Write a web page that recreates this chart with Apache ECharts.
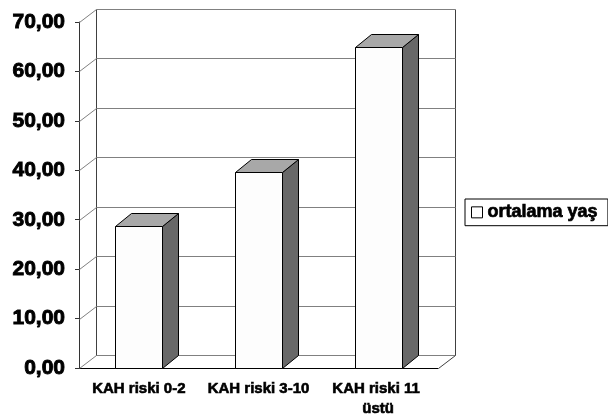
<!DOCTYPE html>
<html>
<head>
<meta charset="utf-8">
<title>ortalama yaş</title>
<script src="https://cdn.jsdelivr.net/npm/echarts@6/dist/echarts.min.js"></script>
<style>
html,body{margin:0;padding:0;background:#fff;}
#chart{width:608px;height:419px;}
</style>
</head>
<body>
<div id="chart"></div>
<script>
var categories = ['KAH riski 0-2', 'KAH riski 3-10', 'KAH riski 11 üstü'];
var values = [28.8, 39.7, 64.9];
var yTicks = [0, 10, 20, 30, 40, 50, 60, 70];
var seriesName = 'ortalama yaş';

var DX = 17, DY = -13;   // duvar derinliği
var BDX = 16, BDY = -13; // sütun derinliği
var FONT = "'Liberation Sans', Arial, sans-serif";

function fmt(v) { return v.toFixed(2).replace('.', ','); }
function px(v) { return Math.round(v) + 0.5; }

var chart = echarts.init(document.getElementById('chart'));

function line(x1, y1, x2, y2, c) {
    return {type: 'line', shape: {x1: x1, y1: y1, x2: x2, y2: y2},
        style: {stroke: c || '#808080', lineWidth: 1}};
}

// arka duvar + zemin çizgileri
function renderWall(params, api) {
    var cs = params.coordSys;
    var x0 = px(cs.x), x1 = px(cs.x + cs.width);
    var y = px(api.coord([0, api.value(1)])[1]);
    var kids = [
        line(x0, y, x0 + DX, y + DY),
        line(x0 + DX, y + DY, x1 + DX, y + DY)
    ];
    if (params.dataIndex === 0) {
        var yt = px(cs.y);
        kids.push(line(x1, y, x1 + DX, y + DY, '#404040'));
        kids.push(line(x0 + DX, y + DY, x0 + DX, yt + DY, '#404040'));
        kids.push(line(x1 + DX, y + DY, x1 + DX, yt + DY, '#404040'));
    }
    return {type: 'group', children: kids};
}

function renderBar(params, api) {
    var top = api.coord([api.value(0), api.value(1)]);
    var base = api.coord([api.value(0), 0]);
    var w = Math.round(api.size([1, 0])[0] * 0.39);
    var l = px(top[0] - w / 2), r = l + w;
    var t = px(top[1]), b = px(base[1]);
    return {type: 'group', children: [
        {type: 'polygon', shape: {points: [[r, b], [r + BDX, b + BDY], [r + BDX, t + BDY], [r, t]]},
            style: {fill: '#686868', stroke: '#000', lineWidth: 1}},
        {type: 'polygon', shape: {points: [[l, t], [l + BDX, t + BDY], [r + BDX, t + BDY], [r, t]]},
            style: {fill: '#a8a8a8', stroke: '#000', lineWidth: 1}},
        {type: 'rect', shape: {x: l, y: t, width: w, height: b - t},
            style: {fill: '#fdfdfd', stroke: '#000', lineWidth: 1}}
    ]};
}

var option = {
    backgroundColor: '#fff',
    animation: false,
    grid: {left: 79, top: 22, width: 359, height: 348},
    legend: {
        left: 465, top: 199,
        orient: 'vertical',
        padding: [4, 10, 4, 6],
        borderColor: '#000', borderWidth: 1,
        itemWidth: 11, itemHeight: 11, itemGap: 4,
        data: [{name: seriesName, icon: 'rect',
            itemStyle: {color: '#fff', borderColor: '#000', borderWidth: 1}}],
        textStyle: {fontFamily: FONT, fontWeight: 'bold', fontSize: 18, color: '#000',
            textBorderColor: '#000', textBorderWidth: 0.7}
    },
    xAxis: {
        type: 'category',
        data: categories,
        axisLine: {lineStyle: {color: '#000'}},
        axisTick: {length: 5, lineStyle: {color: '#000'}},
        axisLabel: {
            interval: 0, margin: 11,
            width: 112, overflow: 'break', lineHeight: 20,
            fontFamily: FONT, fontWeight: 'bold', fontSize: 15, color: '#000',
            textBorderColor: '#000', textBorderWidth: 0.6
        },
        splitLine: {show: false}
    },
    yAxis: {
        type: 'value',
        min: 0, max: 70, interval: 10,
        axisLine: {show: true, lineStyle: {color: '#333'}},
        axisTick: {show: true, length: 4, lineStyle: {color: '#333'}},
        axisLabel: {
            formatter: fmt, margin: 14,
            fontFamily: FONT, fontWeight: 'bold', fontSize: 21, color: '#000',
            textBorderColor: '#000', textBorderWidth: 0.9
        },
        splitLine: {show: false}
    },
    series: [
        {
            type: 'custom',
            silent: true,
            z: 1,
            renderItem: renderWall,
            encode: {x: 0, y: 1},
            data: yTicks.map(function (v) { return [0, v]; })
        },
        {
            name: seriesName,
            type: 'custom',
            z: 3,
            itemStyle: {color: '#fff', borderColor: '#000'},
            renderItem: renderBar,
            encode: {x: 0, y: 1},
            data: values.map(function (v, i) { return [i, v]; })
        }
    ]
};

chart.setOption(option);
</script>
</body>
</html>
